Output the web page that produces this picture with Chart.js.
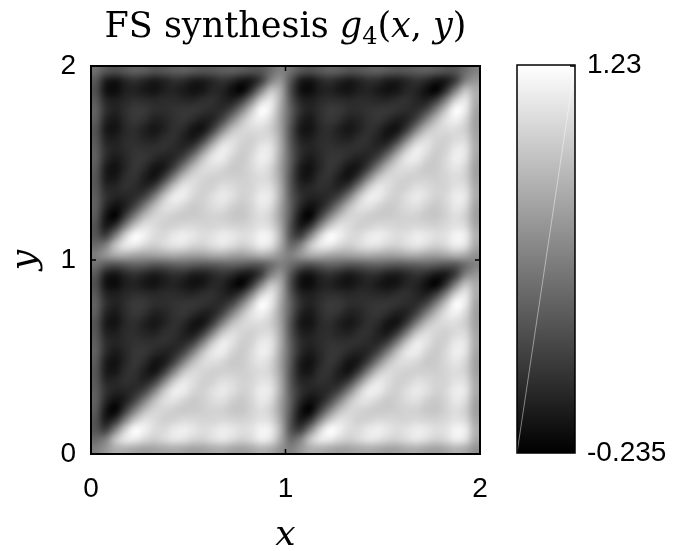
<!DOCTYPE html>
<html>
<head>
<title>FS synthesis g4(x,y)</title>
<script src="https://cdn.jsdelivr.net/npm/chart.js"></script>
<style>
  body { margin: 0; background: #fff; }
  #wrap { position: relative; width: 683px; height: 551px; }
  #mainChart { position: absolute; left: 0; top: 0; }
  #barChart { position: absolute; left: 500px; top: 0; }
</style>
</head>
<body>
<div id="wrap">
  <canvas id="mainChart" width="683" height="551"></canvas>
  <canvas id="barChart" width="183" height="551"></canvas>
</div>
<script>
// one period of g4 on [0,1]x[0,1], 20x20 samples, first row is y = 1 (top), last is y = 0
const cellGrid = [
  [.40, .266, .215, .273, .323, .301, .244, .258, .302, .316, .280, .251, .273, .302, .316, .280, .237, .245, .373, .5],
  [.266, -.061, -.134, -.020, .041, -.030, -.093, -.040, .031, .011, -.072, -.082, -.009, .051, -.009, -.114, -.102, .112, .5, .627],
  [.215, -.134, -.176, -.068, -.046, -.101, -.134, -.068, -.036, -.090, -.145, -.112, -.015, -.036, -.155, -.235, .041, .5, .888, .755],
  [.273, -.020, -.068, -.010, .031, .010, -.009, .010, .011, -.009, -.020, .031, .040, -.028, -.070, .102, .5, .959, 1.102, .763],
  [.323, .041, -.046, .031, .097, .088, .032, .021, .051, .069, .079, .050, .013, .014, .164, .5, .898, 1.23, 1.114, .720],
  [.301, -.030, -.101, .010, .088, .040, -.050, -.030, .040, .078, .010, -.070, -.038, .155, .5, .836, 1.070, 1.155, 1.009, .684],
  [.244, -.093, -.134, -.009, .032, -.050, -.114, -.050, .042, .001, -.124, -.135, .103, .5, .845, .986, 1.028, 1.036, .949, .698],
  [.258, -.040, -.068, .010, .021, -.030, -.050, .031, .040, -.049, -.102, .093, .5, .897, 1.038, .987, .960, 1.015, 1.009, .727],
  [.302, .031, -.036, .011, .051, .040, .042, .040, .003, -.017, .129, .5, .907, 1.135, 1.070, .950, .969, 1.112, 1.082, .749],
  [.316, .011, -.090, -.009, .069, .078, .001, -.049, -.017, .155, .5, .871, 1.102, 1.124, .990, .921, 1.020, 1.145, 1.072, .720],
  [.280, -.072, -.145, -.020, .079, .010, -.124, -.102, .129, .5, .845, 1.017, 1.049, .999, .922, .931, 1.009, 1.090, .989, .684],
  [.251, -.082, -.112, .031, .050, -.070, -.135, .093, .5, .871, 1.017, .997, .960, .958, .960, .949, .989, 1.036, .969, .698],
  [.273, -.009, -.015, .040, .013, -.038, .103, .5, .907, 1.102, 1.049, .960, .969, 1.050, 1.030, .979, .990, 1.068, 1.040, .742],
  [.302, .051, -.036, -.028, .014, .155, .5, .897, 1.135, 1.124, .999, .958, 1.050, 1.114, 1.050, .968, 1.009, 1.134, 1.093, .756],
  [.316, -.009, -.155, -.070, .164, .5, .845, 1.038, 1.070, .990, .922, .960, 1.030, 1.050, .960, .912, .990, 1.101, 1.030, .699],
  [.280, -.114, -.235, .102, .5, .836, .986, .987, .950, .921, .931, .949, .979, .968, .912, .903, .969, 1.046, .959, .677],
  [.237, -.102, .041, .5, .898, 1.070, 1.028, .960, .969, 1.020, 1.009, .989, .990, 1.009, .990, .969, 1.010, 1.068, 1.020, .727],
  [.245, .112, .5, .959, 1.23, 1.155, 1.036, 1.015, 1.112, 1.145, 1.090, 1.036, 1.068, 1.134, 1.101, 1.046, 1.068, 1.176, 1.134, .785],
  [.373, .5, .888, 1.102, 1.114, 1.009, .949, 1.009, 1.082, 1.072, .989, .969, 1.040, 1.093, 1.030, .959, 1.020, 1.134, 1.061, .734],
  [.5, .627, .755, .763, .720, .684, .698, .727, .749, .720, .684, .698, .742, .756, .699, .677, .727, .785, .734, .60]
];
const periods = 2;            // the unit cell repeats 2 x 2 over [0,2] x [0,2]
const xTicks = [0, 1, 2];
const yTicks = [0, 1, 2];
const colorTicks = [-0.235, 1.23];
const cMin = -0.235, cMax = 1.23;

const tickFont = { family: '"Liberation Sans", Arial, sans-serif', size: 28 };
const serif = '"DejaVu Serif", serif';

function grayOf(v) {
    let t = (v - cMin) / (cMax - cMin);
    t = Math.max(0, Math.min(1, t));
    return Math.round(t * 255);
}

// draws the tiled grid as a small image, stretched over the scales' range
const heatmapPlugin = {
    id: 'heatmap',
    beforeDatasetsDraw(chart) {
        const { ctx, scales: { x, y } } = chart;
        const n = cellGrid.length, m = cellGrid[0].length;
        const rows = n * periods, cols = m * periods;
        const off = document.createElement('canvas');
        off.width = cols;
        off.height = rows;
        const octx = off.getContext('2d');
        const img = octx.createImageData(cols, rows);
        for (let r = 0; r < rows; r++) {
            for (let c = 0; c < cols; c++) {
                const g = grayOf(cellGrid[r % n][c % m]);
                const i = (r * cols + c) * 4;
                img.data[i] = g;
                img.data[i + 1] = g;
                img.data[i + 2] = g;
                img.data[i + 3] = 255;
            }
        }
        octx.putImageData(img, 0, 0);
        const left = x.getPixelForValue(x.min), right = x.getPixelForValue(x.max);
        const top = y.getPixelForValue(y.max), bottom = y.getPixelForValue(y.min);
        ctx.save();
        ctx.imageSmoothingEnabled = true;
        ctx.imageSmoothingQuality = 'high';
        ctx.drawImage(off, left, top, right - left, bottom - top);
        ctx.restore();
    },
    afterDraw(chart) {
        const { ctx, chartArea: a, scales: { x, y } } = chart;
        ctx.save();
        // frame and inner ticks
        ctx.strokeStyle = '#000';
        ctx.lineWidth = 2;
        ctx.strokeRect(a.left, a.top, a.right - a.left, a.bottom - a.top);
        ctx.lineWidth = 1.5;
        ctx.beginPath();
        xTicks.forEach(v => {
            const px = x.getPixelForValue(v);
            ctx.moveTo(px, a.bottom); ctx.lineTo(px, a.bottom - 5);
            ctx.moveTo(px, a.top); ctx.lineTo(px, a.top + 5);
        });
        yTicks.forEach(v => {
            const py = y.getPixelForValue(v);
            ctx.moveTo(a.left, py); ctx.lineTo(a.left + 5, py);
            ctx.moveTo(a.right, py); ctx.lineTo(a.right - 5, py);
        });
        ctx.stroke();

        // title: FS synthesis g_4(x, y)
        ctx.fillStyle = '#000';
        ctx.textBaseline = 'alphabetic';
        ctx.textAlign = 'left';
        const parts = [
            { t: 'FS synthesis ', f: '35px ' + serif, dy: 0 },
            { t: 'g', f: 'italic 35px ' + serif, dy: 0 },
            { t: '4', f: '24px ' + serif, dy: 7 },
            { t: '(', f: '35px ' + serif, dy: 0 },
            { t: 'x', f: 'italic 35px ' + serif, dy: 0 },
            { t: ', ', f: '35px ' + serif, dy: 0 },
            { t: 'y', f: 'italic 35px ' + serif, dy: 0 },
            { t: ')', f: '35px ' + serif, dy: 0 }
        ];
        let total = 0;
        parts.forEach(p => { ctx.font = p.f; p.w = ctx.measureText(p.t).width; total += p.w; });
        let cx = (a.left + a.right) / 2 - total / 2;
        parts.forEach(p => {
            ctx.font = p.f;
            ctx.fillText(p.t, cx, 37 + p.dy);
            cx += p.w;
        });

        // axis labels
        ctx.font = 'italic 36px ' + serif;
        ctx.textAlign = 'center';
        ctx.fillText('x', (a.left + a.right) / 2, 545);
        ctx.save();
        ctx.translate(35, (a.top + a.bottom) / 2);
        ctx.rotate(-Math.PI / 2);
        ctx.fillText('y', 0, 0);
        ctx.restore();
        ctx.restore();
    }
};

new Chart(document.getElementById('mainChart'), {
    type: 'scatter',
    data: { datasets: [{ data: [] }] },
    options: {
        responsive: false,
        animation: false,
        layout: { padding: { left: 0, top: 66, right: 203, bottom: 0 } },
        plugins: { legend: { display: false }, tooltip: { enabled: false } },
        scales: {
            x: {
                type: 'linear', min: 0, max: 2,
                afterBuildTicks: s => { s.ticks = xTicks.map(v => ({ value: v })); },
                afterFit: s => { s.height = 97; },
                grid: { display: false, drawTicks: false },
                border: { display: false },
                ticks: { font: tickFont, color: '#000', padding: 18, maxRotation: 0 }
            },
            y: {
                type: 'linear', min: 0, max: 2,
                afterBuildTicks: s => { s.ticks = yTicks.map(v => ({ value: v })); },
                afterFit: s => { s.width = 91; },
                grid: { display: false, drawTicks: false },
                border: { display: false },
                ticks: { font: tickFont, color: '#000', padding: 15 }
            }
        }
    },
    plugins: [heatmapPlugin]
});

// colour bar
const barFramePlugin = {
    id: 'barFrame',
    afterDraw(chart) {
        const { ctx, chartArea: a } = chart;
        ctx.save();
        ctx.strokeStyle = '#000';
        ctx.lineWidth = 1.5;
        ctx.strokeRect(a.left, a.top, a.right - a.left, a.bottom - a.top);
        ctx.beginPath();
        ctx.moveTo(a.right, a.top + 1); ctx.lineTo(a.right - 5, a.top + 1);
        ctx.moveTo(a.right, a.bottom - 1); ctx.lineTo(a.right - 5, a.bottom - 1);
        ctx.stroke();
        ctx.restore();
    }
};

new Chart(document.getElementById('barChart'), {
    type: 'line',
    data: {
        datasets: [
            {
                data: [{ x: 0, y: cMax }, { x: 1, y: cMax }],
                order: 2,
                fill: { value: cMin },
                borderWidth: 0,
                pointRadius: 0,
                backgroundColor: (context) => {
                    const { chart } = context;
                    const { ctx, chartArea, scales } = chart;
                    if (!chartArea) return 'rgba(0,0,0,0)';
                    const y = scales.y;
                    const g = ctx.createLinearGradient(0, y.getPixelForValue(cMin), 0, y.getPixelForValue(cMax));
                    g.addColorStop(0, '#000');
                    g.addColorStop(1, '#fff');
                    return g;
                }
            },
            {
                data: [{ x: 0, y: cMin }, { x: 1, y: cMax }],
                order: 1,
                fill: false,
                borderColor: 'rgba(255,255,255,0.45)',
                borderWidth: 1,
                pointRadius: 0
            }
        ]
    },
    options: {
        responsive: false,
        animation: false,
        layout: { padding: { left: 17, top: 65, right: 0, bottom: 98 } },
        plugins: { legend: { display: false }, tooltip: { enabled: false } },
        scales: {
            x: { type: 'linear', min: 0, max: 1, display: false },
            y: {
                type: 'linear', position: 'right', min: cMin, max: cMax,
                afterBuildTicks: s => { s.ticks = colorTicks.map(v => ({ value: v })); },
                afterFit: s => { s.width = 108; },
                grid: { display: false, drawTicks: false },
                border: { display: false },
                ticks: { font: tickFont, color: '#000', padding: 12, callback: v => String(v) }
            }
        }
    },
    plugins: [barFramePlugin]
});
</script>
</body>
</html>
